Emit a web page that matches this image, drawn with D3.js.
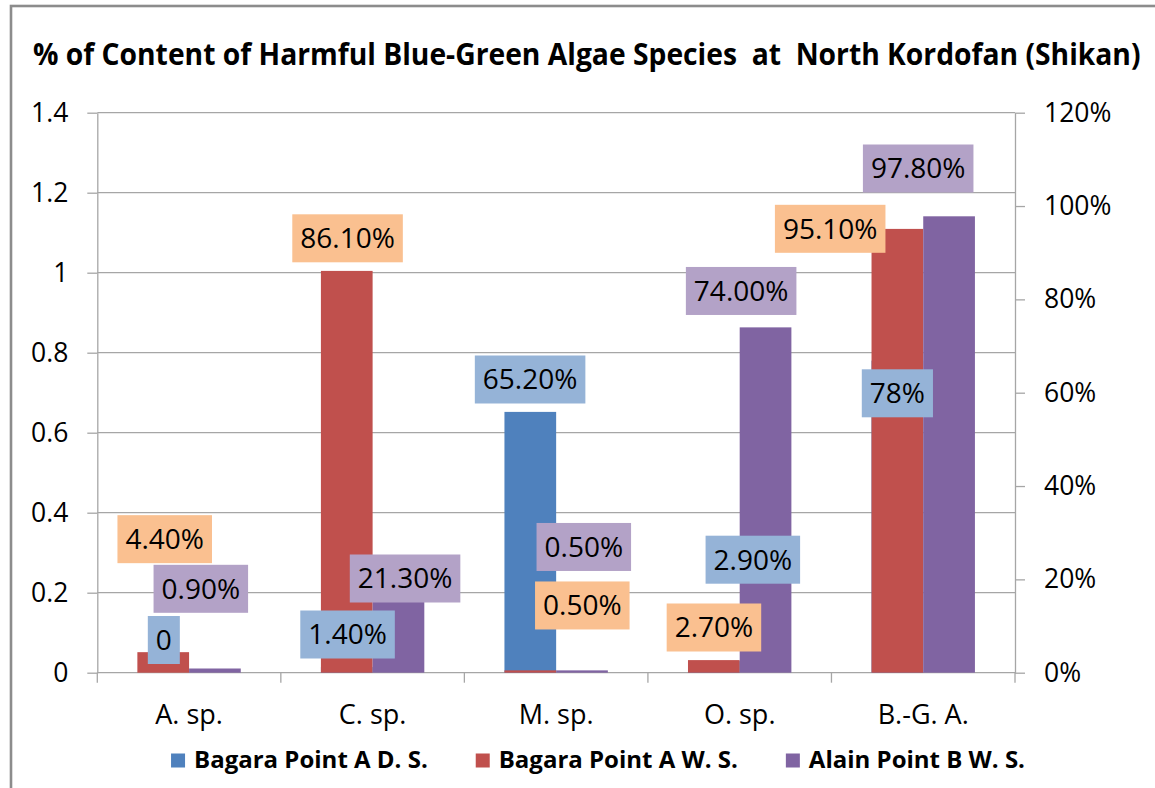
<!DOCTYPE html>
<html>
<head>
<meta charset="utf-8">
<script src="https://cdn.jsdelivr.net/npm/d3@7"></script>
<style>
  html, body { margin: 0; padding: 0; background: #fff; }
  svg { display: block; font-family: "Open Sans", "Noto Sans", sans-serif; }
</style>
</head>
<body>
<svg id="chart" width="1155" height="788"></svg>
<script>
// Categories and series
const categories = ["A. sp.", "C. sp.", "M. sp.", "O. sp.", "B.-G. A."];
const seriesNames = ["Bagara Point A D. S.", "Bagara Point A W. S.", "Alain Point B W. S."];
const seriesColors = ["#4F81BD", "#C0504D", "#8064A2"];
const labelFills = ["#95B3D7", "#FAC090", "#B3A2C7"];

// Bagara dry season, plotted on the primary (left) axis
const bagaraDry = [0, 0.014, 0.652, 0.029, 0.78];
// Wet season series, plotted on the secondary (right, percent) axis
const bagaraWet = [0.044, 0.861, 0.005, 0.027, 0.951];
const alainWet = [0.009, 0.213, 0.005, 0.74, 0.978];

const leftTicks = [0, 0.2, 0.4, 0.6, 0.8, 1, 1.2, 1.4];
const rightTicks = [0, 0.2, 0.4, 0.6, 0.8, 1, 1.2];
const dryLabelFormats = ["", ".2%", ".2%", ".2%", ".0%"];

// Label box offsets from each bar's top centre (pixels)
const dryLabelOffsets = [[0.6, -32.7], [0.8, -32.6], [-0.2, -32.4], [39, -101.4], [0, 32.6]];
const bagaraWetLabelOffsets = [[1.5, -113], [0.8, -32.6], [52, -64.9], [0.1, -32.6], [-67.2, -0.1]];
const alainWetLabelOffsets = [[-14.1, -79.7], [6.6, 5.2], [1.8, -123.4], [-24.4, -36.4], [-30.9, -47.8]];

const svg = d3.select("#chart");
const L = 97.3, R = 1015, T = 112.7, B = 672.7;
const gridColor = "#A6A6A6";

// Chart area border
svg.append("rect")
  .attr("x", 11).attr("y", 6).attr("width", 1300).attr("height", 1000)
  .attr("fill", "none").attr("stroke", "#8C8C8C").attr("stroke-width", 2.6);

// Title, narrowed horizontally to fit the chart width
const title = svg.append("text")
  .attr("x", 0).attr("y", 0)
  .attr("font-size", 30.5).attr("font-weight", 700).attr("fill", "#000")
  .style("white-space", "pre")
  .text("% of Content of Harmful Blue-Green Algae Species  at  North Kordofan (Shikan)");
const titleW = title.node().getComputedTextLength();
title.attr("transform", `translate(33,65) scale(${1108 / titleW},1)`);

// Scales
const x0 = d3.scaleBand().domain(categories).range([L, R]).paddingInner(0).paddingOuter(0);
const x1 = d3.scaleBand().domain([0, 1]).range([0, x0.bandwidth()]).paddingInner(0).paddingOuter(0.775);
const yL = d3.scaleLinear().domain([0, 1.4]).range([B, T]);
const yR = d3.scaleLinear().domain([0, 1.2]).range([B, T]);

// Horizontal gridlines
svg.append("g").selectAll("line").data(leftTicks.slice(1)).join("line")
  .attr("x1", L).attr("x2", R)
  .attr("y1", d => yL(d)).attr("y2", d => yL(d))
  .attr("stroke", gridColor).attr("stroke-width", 1.3);

// Axes
function styleAxis(g) {
  g.selectAll("path.domain").attr("stroke", gridColor).attr("stroke-width", 1.3);
  g.selectAll(".tick line").attr("stroke", gridColor).attr("stroke-width", 1.3);
  g.selectAll(".tick text").attr("fill", "#000").attr("font-size", 26.5)
    .attr("font-family", "'Open Sans', sans-serif");
}
svg.append("g").attr("transform", `translate(${L},0)`)
  .call(d3.axisLeft(yL).tickValues(leftTicks).tickSize(10).tickSizeOuter(0).tickPadding(19)
    .tickFormat(d => String(+d.toFixed(1))))
  .call(styleAxis);
svg.append("g").attr("transform", `translate(${R},0)`)
  .call(d3.axisRight(yR).tickValues(rightTicks).tickSize(10).tickSizeOuter(0).tickPadding(19)
    .tickFormat(d3.format(".0%")))
  .call(styleAxis);

// Category axis: baseline, boundary ticks and labels
svg.append("line").attr("x1", L).attr("x2", R).attr("y1", B).attr("y2", B)
  .attr("stroke", gridColor).attr("stroke-width", 1.3);
const boundaries = categories.map(c => x0(c)).concat([R]);
svg.append("g").selectAll("line").data(boundaries).join("line")
  .attr("x1", d => d).attr("x2", d => d).attr("y1", B).attr("y2", B + 10)
  .attr("stroke", gridColor).attr("stroke-width", 1.3);
svg.append("g").selectAll("text").data(categories).join("text")
  .attr("x", d => x0(d) + x0.bandwidth() / 2).attr("y", 724)
  .attr("text-anchor", "middle").attr("font-size", 27).attr("fill", "#000")
  .text(d => d);

// Bars
const barW = x1.bandwidth();
function barsFor(values, slot, yScale, color) {
  svg.append("g").selectAll("rect").data(values).join("rect")
    .attr("x", (d, i) => x0(categories[i]) + x1(slot))
    .attr("y", d => yScale(d))
    .attr("width", barW)
    .attr("height", d => B - yScale(d))
    .attr("fill", color);
}
barsFor(bagaraDry, 0, yL, seriesColors[0]);
barsFor(bagaraWet, 0, yR, seriesColors[1]);
barsFor(alainWet, 1, yR, seriesColors[2]);

// Data labels
const labelSize = 28;
function labelsFor(values, slot, yScale, fill, offsets, fmt) {
  const g = svg.append("g");
  values.forEach((v, i) => {
    const cx = x0(categories[i]) + x1(slot) + barW / 2 + offsets[i][0];
    const cy = yScale(v) + offsets[i][1];
    const lg = g.append("g");
    const box = lg.append("rect").attr("fill", fill);
    const t = lg.append("text")
      .attr("x", cx).attr("y", cy + labelSize * 0.357)
      .attr("text-anchor", "middle").attr("font-size", labelSize).attr("fill", "#000")
      .text(fmt(v, i));
    const w = t.node().getComputedTextLength() + 16;
    box.attr("x", cx - w / 2).attr("y", cy - 24).attr("width", w).attr("height", 48);
  });
}
labelsFor(bagaraDry, 0, yL, labelFills[0], dryLabelOffsets, (v, i) => d3.format(dryLabelFormats[i])(v));
labelsFor(bagaraWet, 0, yR, labelFills[1], bagaraWetLabelOffsets, v => d3.format(".2%")(v));
labelsFor(alainWet, 1, yR, labelFills[2], alainWetLabelOffsets, v => d3.format(".2%")(v));

// Legend
const legend = svg.append("g");
let lx = 0;
seriesNames.forEach((name, i) => {
  const eg = legend.append("g");
  eg.append("rect").attr("x", lx).attr("y", 753.5).attr("width", 14).attr("height", 14)
    .attr("fill", seriesColors[i]);
  const t = eg.append("text").attr("x", lx + 23).attr("y", 768)
    .attr("font-size", 24).attr("font-weight", 700).attr("fill", "#000").text(name);
  lx += 23 + t.node().getComputedTextLength() + 48;
});
const legendWidth = lx - 48;
legend.attr("transform", `translate(${598 - legendWidth / 2},0)`);
</script>
</body>
</html>
